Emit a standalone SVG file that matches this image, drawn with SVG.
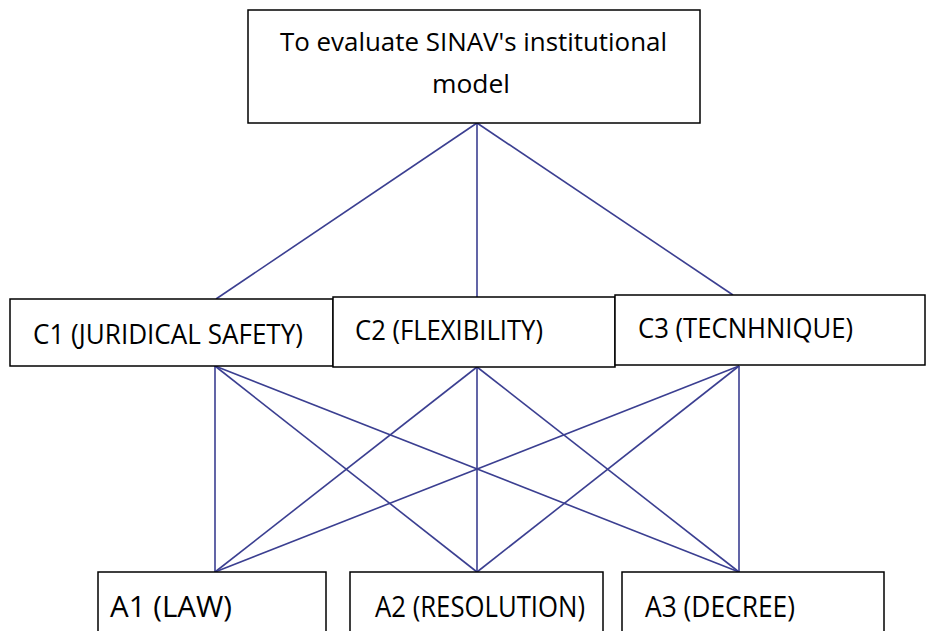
<svg xmlns="http://www.w3.org/2000/svg" width="926" height="631" viewBox="0 0 926 631">
<style>
.box{fill:#fff;stroke:#000;stroke-width:1.5}
.lbl{font-family:"Open Sans","Liberation Sans",sans-serif;fill:#000}
.con line{stroke:#3b3f91;stroke-width:1.6}
</style>
<rect width="926" height="631" fill="#fff"/>
<g id="connectors" class="con">
<line x1="477" y1="123" x2="216" y2="299"/>
<line x1="477" y1="123" x2="477" y2="297"/>
<line x1="477" y1="123" x2="733" y2="295"/>
<line x1="215" y1="366" x2="215" y2="572"/>
<line x1="215" y1="366" x2="477" y2="572"/>
<line x1="215" y1="366" x2="739" y2="572"/>
<line x1="477" y1="367" x2="215" y2="572"/>
<line x1="477" y1="367" x2="477" y2="572"/>
<line x1="477" y1="367" x2="739" y2="572"/>
<line x1="739" y1="366" x2="215" y2="572"/>
<line x1="739" y1="366" x2="477" y2="572"/>
<line x1="739" y1="366" x2="739" y2="572"/>
</g>
<g id="goal">
<rect class="box" x="248" y="10" width="452" height="113"/>
<text class="lbl" x="280" y="51" font-size="25" textLength="387" lengthAdjust="spacingAndGlyphs">To evaluate SINAV's institutional</text>
<text class="lbl" x="432" y="93" font-size="25" textLength="78" lengthAdjust="spacingAndGlyphs">model</text>
</g>
<g id="c1">
<rect class="box" x="10" y="299" width="323" height="67"/>
<text class="lbl" x="33" y="344" font-size="28" textLength="270" lengthAdjust="spacingAndGlyphs">C1 (JURIDICAL SAFETY)</text>
</g>
<g id="c2">
<rect class="box" x="333" y="297" width="282" height="70"/>
<text class="lbl" x="355" y="340" font-size="27" textLength="188" lengthAdjust="spacingAndGlyphs">C2 (FLEXIBILITY)</text>
</g>
<g id="c3">
<rect class="box" x="615" y="295" width="310" height="70"/>
<text class="lbl" x="638" y="338" font-size="27" textLength="215" lengthAdjust="spacingAndGlyphs">C3 (TECNHNIQUE)</text>
</g>
<g id="a1">
<rect class="box" x="98" y="572" width="228" height="70"/>
<text class="lbl" x="110" y="617" font-size="30" textLength="122" lengthAdjust="spacingAndGlyphs">A1 (LAW)</text>
</g>
<g id="a2">
<rect class="box" x="350" y="572" width="253" height="70"/>
<text class="lbl" x="375" y="617" font-size="30" textLength="210" lengthAdjust="spacingAndGlyphs">A2 (RESOLUTION)</text>
</g>
<g id="a3">
<rect class="box" x="622" y="572" width="262" height="70"/>
<text class="lbl" x="645" y="617" font-size="30" textLength="150" lengthAdjust="spacingAndGlyphs">A3 (DECREE)</text>
</g>
</svg>
